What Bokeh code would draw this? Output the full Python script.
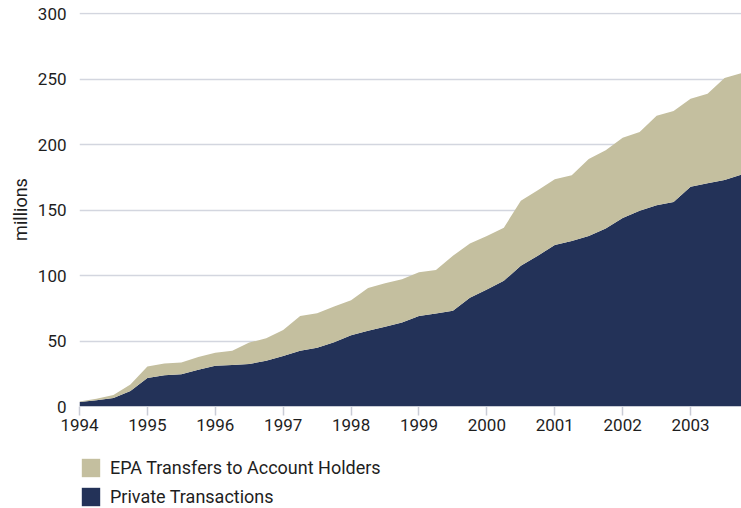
from bokeh.plotting import figure
from bokeh.layouts import column
from bokeh.models import ColumnDataSource, Legend, LegendItem, FixedTicker, Range1d
from bokeh.embed import file_html
from bokeh.resources import INLINE

# Quarterly observations (decimal years)
quarters = [1994.00, 1994.25, 1994.50, 1994.75,
            1995.00, 1995.25, 1995.50, 1995.75,
            1996.00, 1996.25, 1996.50, 1996.75,
            1997.00, 1997.25, 1997.50, 1997.75,
            1998.00, 1998.25, 1998.50, 1998.75,
            1999.00, 1999.25, 1999.50, 1999.75,
            2000.00, 2000.25, 2000.50, 2000.75,
            2001.00, 2001.25, 2001.50, 2001.75,
            2002.00, 2002.25, 2002.50, 2002.75,
            2003.00, 2003.25, 2003.50, 2003.75]

# millions
private_transactions = [3.5, 4.8, 6.5, 11.9,
                        21.8, 23.8, 24.7, 28.0,
                        31.2, 31.7, 32.5, 34.9,
                        38.6, 42.6, 44.8, 49.0,
                        54.4, 57.8, 61.0, 64.2,
                        69.1, 71.0, 73.1, 83.0,
                        89.3, 96.0, 107.6, 115.2,
                        123.3, 126.5, 130.3, 135.9,
                        144.0, 149.5, 153.7, 156.3,
                        167.9, 170.5, 173.1, 177.1]

epa_transfers = [0.3, 1.1, 2.2, 5.0,
                 8.7, 9.1, 9.0, 9.9,
                 9.9, 10.9, 16.3, 17.3,
                 19.8, 26.5, 26.5, 27.4,
                 26.8, 32.7, 33.1, 33.1,
                 33.5, 33.3, 42.1, 41.5,
                 41.0, 40.6, 49.6, 50.0,
                 50.4, 50.1, 58.8, 59.9,
                 61.4, 60.2, 68.4, 69.5,
                 67.2, 68.4, 77.9, 77.6]

year_ticks = [1994, 1995, 1996, 1997, 1998, 1999, 2000, 2001, 2002, 2003]
y_ticks = [0, 50, 100, 150, 200, 250, 300]

series_names = ["private", "epa"]
series_labels = ["Private Transactions", "EPA Transfers to Account Holders"]
series_colors = ["#233258", "#c4bf9f"]

source = ColumnDataSource(dict(x=quarters, private=private_transactions, epa=epa_transfers))

text_color = "#1e1e1e"
tick_font = "Roboto"

# ---------------- main chart ----------------
p = figure(width=741, height=440, output_backend="svg", toolbar_location=None,
           x_range=Range1d(1994.0, 2003.75), y_range=Range1d(0, 301),
           min_border_left=79, min_border_right=0, min_border_top=12, min_border_bottom=34)
p.outline_line_color = None
p.background_fill_color = "white"
p.border_fill_color = "white"

p.varea_stack(series_names, x="x", color=series_colors, source=source)

# x axis
p.xaxis.ticker = FixedTicker(ticks=year_ticks)
p.xaxis.axis_line_color = None
p.xaxis.major_tick_line_color = "#c9ccd6"
p.xaxis.major_tick_line_width = 1.5
p.xaxis.major_tick_out = 9
p.xaxis.major_tick_in = 0
p.xaxis.minor_tick_line_color = None
p.xaxis.major_label_standoff = 3
p.xaxis.major_label_text_font = tick_font
p.xaxis.major_label_text_font_size = "17px"
p.xaxis.major_label_text_color = text_color

# y axis
p.yaxis.ticker = FixedTicker(ticks=y_ticks)
p.yaxis.axis_line_color = None
p.yaxis.major_tick_line_color = None
p.yaxis.minor_tick_line_color = None
p.yaxis.major_tick_out = 0
p.yaxis.major_tick_in = 0
p.yaxis.major_label_standoff = 13
p.yaxis.major_label_text_font = tick_font
p.yaxis.major_label_text_font_size = "17px"
p.yaxis.major_label_text_color = text_color
p.yaxis.axis_label = "millions"
p.yaxis.axis_label_text_font = "Roboto"
p.yaxis.axis_label_text_font_style = "normal"
p.yaxis.axis_label_text_font_size = "18px"
p.yaxis.axis_label_text_color = text_color
p.yaxis.axis_label_standoff = 4

p.xgrid.grid_line_color = None
p.ygrid.grid_line_color = "#d3d6df"
p.ygrid.grid_line_width = 1.5
p.ygrid.level = "underlay"

# ---------------- legend strip ----------------
lg = figure(width=741, height=68, output_backend="svg", toolbar_location=None,
            x_range=Range1d(0, 1), y_range=Range1d(0, 1),
            x_axis_location=None, y_axis_location=None,
            min_border_left=78, min_border_right=0, min_border_top=0, min_border_bottom=0)
lg.outline_line_color = None
lg.grid.visible = False
lg.background_fill_color = "white"
lg.border_fill_color = "white"
# same series, outside the visible range: only used for the legend swatches
legend_renderers = lg.varea_stack(series_names, x="x", color=series_colors, source=source)

legend = Legend(items=[LegendItem(label=series_labels[1], renderers=[legend_renderers[1]]),
                       LegendItem(label=series_labels[0], renderers=[legend_renderers[0]])],
                location="bottom_left", orientation="vertical",
                glyph_width=23, glyph_height=23, spacing=6, padding=0, margin=0,
                label_standoff=8, label_text_font="Roboto", label_text_font_size="18px",
                label_text_color=text_color, label_height=23,
                border_line_color=None, background_fill_alpha=0)
lg.add_layout(legend, "center")

layout = column(p, lg, spacing=0)
open("out.html", "w").write(file_html(layout, INLINE))
